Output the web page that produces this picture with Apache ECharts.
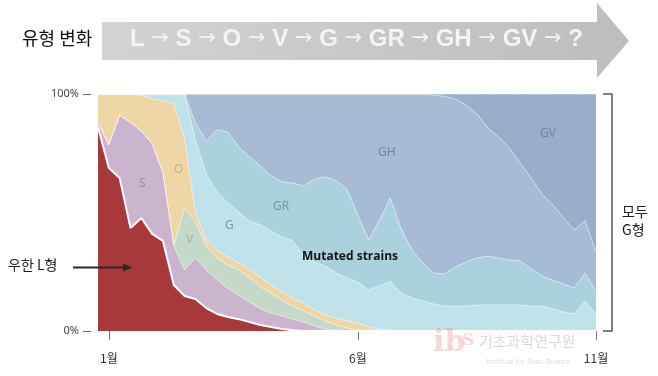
<!DOCTYPE html>
<html><head><meta charset="utf-8">
<script src="https://cdn.jsdelivr.net/npm/echarts@6/dist/echarts.min.js"></script>
<style>html,body{margin:0;padding:0;background:#fff}#c{width:658px;height:376px}</style>
</head><body><div id="c"></div>
<script>
// weekly sample points from January to November
const weeks = ['0','1','2','3','4','5','6','7','8','9','10','11','12','13','14','15','16','17','18','19','20','21','22','23','24','25','26','27','28','29','30','31','32','33','34','35','36','37','38','39','40','41','42','43','44','45','46'];
const tickIdx = [1, 24, 46];
const tickLabels = ['1월', '6월', '11월'];
const yTicks = ['0%', '100%'];
// cumulative share (%) at the top of each strain band, bottom to top: L, S, V, O, G, GR, GH, GV
const lTop = [86,68.8,64.6,43.5,47.7,41,38,19.4,14.8,13.5,9.7,7.2,5.9,5,3.8,2.5,1.7,0.8,0.3,0,0,0,0,0,0,0,0,0,0,0,0,0,0,0,0,0,0,0,0,0,0,0,0,0,0,0,0];
const sTop = [88,78.5,91,88,84.4,79,66.7,36,25.7,30.8,25.7,21.5,18,15,12.2,9.3,7.6,6.3,5,3.8,2.1,0.8,0.4,0,0,0,0,0,0,0,0,0,0,0,0,0,0,0,0,0,0,0,0,0,0,0,0];
const vTop = [88,78.5,91,88,84.4,79,66.7,36,52,46,36,30.8,27.8,25.7,22.4,18.6,16,13,10.5,8.4,6.3,4.2,2.5,1.3,0.5,0,0,0,0,0,0,0,0,0,0,0,0,0,0,0,0,0,0,0,0,0,0];
const oTop = [100,100,100,100,99.5,98,97,96,81,50,38.4,34.2,31.2,28.7,25.7,22.8,19.4,16.5,14,11.8,8.9,6.8,5.5,4.2,3.4,1.7,0.8,0.4,0,0,0,0,0,0,0,0,0,0,0,0,0,0,0,0,0,0,0];
const gTop = [100,100,100,100,100,100,100,100,100,80.6,66.2,58.6,54,50.2,46.4,44.7,42.2,39.7,38,31.6,29.1,27.4,24.5,22.4,20.7,17.3,19,21.1,16,13.9,12.7,11.4,10.5,10.5,10.5,11,11,11,11,11,10.5,10.5,9.3,8,7.2,12.7,7.2];
const grTop = [100,100,100,100,100,100,100,100,100,87.8,80.2,84.8,84,77.6,73.4,69.6,65.4,62.9,62.4,61.2,64.1,65,63.3,59.9,48.9,38.4,46.8,56.1,43,34.2,28.7,24.5,24,27,29.1,30.8,31.6,30.8,30,29.5,26.2,23.2,21.5,19.8,18.1,24.5,16.5];
const ghTop = [100,100,100,100,100,100,100,100,100,100,100,100,100,100,100,100,100,100,100,100,100,100,100,100,100,100,100,100,100,100,100,99.5,99,97.9,95.4,91.6,85.7,81.9,77.2,70.9,64.6,57.8,53.2,47.7,42.6,46.4,33.3];
const gvTop = [100,100,100,100,100,100,100,100,100,100,100,100,100,100,100,100,100,100,100,100,100,100,100,100,100,100,100,100,100,100,100,100,100,100,100,100,100,100,100,100,100,100,100,100,100,100,100];

const bands = [
  {name:'GV', data:gvTop, color:'#98aecb'},
  {name:'GH', data:ghTop, color:'#a7bcd4'},
  {name:'GR', data:grTop, color:'#a9d2dd'},
  {name:'G',  data:gTop,  color:'#bfe2eb'},
  {name:'O',  data:oTop,  color:'#efd7a5'},
  {name:'V',  data:vTop,  color:'#c6d9c8'},
  {name:'S',  data:sTop,  color:'#cbb4cd'},
  {name:'L',  data:lTop,  color:'#a8393b'}
];

const KR = '"Noto Sans CJK KR", "Noto Sans", sans-serif';
const chart = echarts.init(document.getElementById('c'), null, {renderer:'canvas'});

const bandLabel = (t, x, y, color, size, weight) => ({
  type:'text', left:x, top:y, z:50,
  style:{text:t, fill:color, font:(weight||'normal') + ' ' + (size||12) + 'px ' + ((weight==='bold')?'"Open Sans", "Noto Sans", sans-serif':'"Noto Sans", sans-serif')}
});

const option = {
  animation:false,
  grid:{left:98, right:62, top:94, bottom:45},
  xAxis:{
    type:'category', data:weeks, boundaryGap:false, offset:7,
    axisLine:{show:false},
    axisTick:{show:true, length:9, interval:(i)=>tickIdx.includes(i), lineStyle:{color:'#777', width:1}},
    axisLabel:{interval:(i)=>tickIdx.includes(i), formatter:(v,i)=>tickLabels[tickIdx.indexOf(i)] || '', margin:14, color:'#333', fontSize:12, fontFamily:KR},
    splitLine:{show:false}
  },
  yAxis:[{
    type:'value', min:0, max:100, interval:100, offset:7,
    axisLine:{show:false},
    axisTick:{show:true, length:8, lineStyle:{color:'#666', width:1}},
    axisLabel:{margin:12, color:'#444', fontSize:11, fontFamily:'"Noto Sans", sans-serif', formatter:(v)=> v===100 ? yTicks[1] : yTicks[0]},
    splitLine:{show:false}
  },{
    type:'value', min:0, max:100, interval:100, position:'right', offset:16,
    axisLine:{show:true, lineStyle:{color:'#555', width:1.5}},
    axisTick:{show:true, inside:true, length:9, lineStyle:{color:'#555', width:1.5}},
    axisLabel:{show:false}, splitLine:{show:false}
  }],
  series: bands.map(b => ({
    name:b.name, type:'line', data:b.data, yAxisIndex:0, symbol:'none', smooth:false,
    lineStyle: b.name==='L' ? {color:'#ffffff', width:2} : {color:'rgba(255,255,255,0.55)', width:1},
    areaStyle:{color:b.color, opacity:1},
    emphasis:{disabled:true}
  })),
  graphic:[
    // banner arrow
    {type:'polygon', z:1, shape:{points:[[102,22],[597,22],[597,3],[629,41],[597,78],[597,60],[102,60]]},
     style:{fill:new echarts.graphic.LinearGradient(0,0,1,0,[{offset:0,color:'#d3d3d3'},{offset:1,color:'#bdbdbd'}])}},
    {type:'text', left:130, top:27, z:2, style:{
      text:'{a|L}{b| → }{a|S}{b| → }{a|O}{b| → }{a|V}{b| → }{a|G}{b| → }{a|GR}{b| → }{a|GH}{b| → }{a|GV}{b| → }{a|?}',
      rich:{
        a:{fontSize:24, fontFamily:'"Liberation Sans Narrow", "Liberation Sans", sans-serif', fill:'#f4f4f4', fontWeight:'bold', height:28, verticalAlign:'middle'},
        b:{fontSize:21, fontFamily:'"DejaVu Sans", sans-serif', fill:'#f4f4f4', height:28, verticalAlign:'middle'}
      }}},
    {type:'text', left:22, top:29, style:{text:'유형 변화', fill:'#111', font:'18px ' + KR}},
    // left annotation
    {type:'text', left:8, top:258, style:{text:'우한 L형', fill:'#222', font:'14px ' + KR}},
    {type:'line', z:60, shape:{x1:73, y1:267.5, x2:125, y2:267.5}, style:{stroke:'#2a2a2a', lineWidth:2}},
    {type:'polygon', z:60, shape:{points:[[123,263.5],[132,267.5],[123,271.5]]}, style:{fill:'#2a2a2a'}},
    // right annotation
    {type:'text', left:622, top:205, style:{text:'모두', fill:'#222', font:'14px ' + KR}},
    {type:'text', left:622, top:223, style:{text:'G형', fill:'#222', font:'14px ' + KR}},
    // band labels
    bandLabel('S', 139, 178, '#9f8ca6', 12),
    bandLabel('O', 174, 164, '#c4ae8d', 12),
    bandLabel('V', 186, 234, '#a4b3a6', 12),
    bandLabel('G', 225, 220, '#7f9ba6', 12),
    bandLabel('GR', 273, 201, '#7b97a3', 12),
    bandLabel('GH', 378, 147, '#6f84a1', 12),
    bandLabel('GV', 540, 128, '#7183a1', 12),
    bandLabel('Mutated strains', 302, 251, '#151515', 12, 'bold'),
    // watermark logo
    {type:'text', left:433, top:328, z:70, style:{text:'ib', fill:'rgba(228,140,140,0.35)', font:'bold 30px "DejaVu Serif", serif'}},
    {type:'text', left:462, top:332, z:70, style:{text:'S', fill:'rgba(228,140,140,0.35)', font:'bold 17px "DejaVu Serif", serif'}},
    {type:'text', left:479, top:334, z:70, style:{text:'기초과학연구원', fill:'rgba(150,150,150,0.35)', font:'15px ' + KR}},
    {type:'text', left:486, top:358, z:70, style:{text:'Institute for Basic Science', fill:'rgba(150,150,150,0.35)', font:'7px "Noto Sans", sans-serif'}}
  ]
};
chart.setOption(option);
</script></body></html>
